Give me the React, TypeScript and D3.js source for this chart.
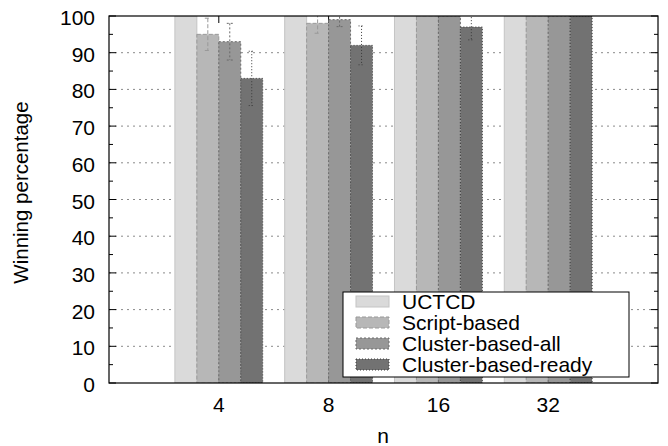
import React from 'react';
import * as d3 from 'd3';

const categories = ['4', '8', '16', '32'];
const seriesNames = ['UCTCD', 'Script-based', 'Cluster-based-all', 'Cluster-based-ready'];
const uctcd = [100, 100, 100, 100];
const scriptBased = [95, 98, 100, 100];
const clusterAll = [93, 99, 100, 100];
const clusterReady = [83, 92, 97, 100];
const uctcdErr = [0, 0, 0, 0];
const scriptErr = [4.4, 2.7, 0, 0];
const clusterAllErr = [5, 1.9, 0, 0];
const clusterReadyErr = [7.4, 5.3, 3.5, 0];
const yTicks = [0, 10, 20, 30, 40, 50, 60, 70, 80, 90, 100];
const yMinorTicks = [5, 15, 25, 35, 45, 55, 65, 75, 85, 95];

const seriesValues = [uctcd, scriptBased, clusterAll, clusterReady];
const seriesErrors = [uctcdErr, scriptErr, clusterAllErr, clusterReadyErr];
const fills = ['#dadada', '#b7b7b7', '#979797', '#727272'];
const strokes = ['#c4c4c4', '#999999', '#6a6a6a', '#3a3a3a'];
const dashes = ['none', '4,2', '2,2', '1,2'];

const W = 668, H = 446;
const L = 109, R = 658, T = 16, B = 383;
const font = '"Liberation Sans", Arial, Helvetica, sans-serif';
const FS = 21;

export default function App() {
  const x = d3.scaleLinear().domain([-1, 4]).range([L, R]);
  const y = d3.scaleLinear().domain([0, 100]).range([B, T]);
  const bw = 0.2;

  return (
    <svg width={W} height={H} style={{ position: 'absolute', left: 0, top: 0, background: '#fff' }} fontFamily={font}>
      <defs>
        <clipPath id="plot"><rect x={L} y={T} width={R - L} height={B - T} /></clipPath>
      </defs>
      {yTicks.filter(t => t > 0 && t < 100).map(t => (
        <line key={'g' + t} x1={L} x2={R} y1={y(t)} y2={y(t)} stroke="#8a8a8a" strokeWidth={1} strokeDasharray="2,4" />
      ))}
      {yTicks.map(t => (
        <g key={'t' + t}>
          <line x1={L} x2={L + 7} y1={y(t)} y2={y(t)} stroke="#000" />
          <line x1={R} x2={R - 7} y1={y(t)} y2={y(t)} stroke="#000" />
          <text x={95} y={y(t) + 9} textAnchor="end" fontSize={FS} fill="#000">{t}</text>
        </g>
      ))}
      {yMinorTicks.map(t => (
        <g key={'m' + t}>
          <line x1={L} x2={L + 4} y1={y(t)} y2={y(t)} stroke="#000" />
          <line x1={R} x2={R - 4} y1={y(t)} y2={y(t)} stroke="#000" />
        </g>
      ))}
      {categories.map((c, i) => (
        <g key={'xt' + c}>
          <line x1={x(i)} x2={x(i)} y1={T} y2={T + 7} stroke="#000" />
          <line x1={x(i)} x2={x(i)} y1={B} y2={B - 7} stroke="#000" />
          <text x={x(i)} y={412} textAnchor="middle" fontSize={FS} fill="#000">{c}</text>
        </g>
      ))}
      <g clipPath="url(#plot)">
        {seriesValues.map((vals, s) => vals.map((v, i) => {
          const x0 = x(i + (s - 2) * bw);
          const x1 = x(i + (s - 1) * bw);
          return (
            <rect key={`b${s}-${i}`} x={x0} y={y(v)} width={x1 - x0} height={B - y(v)}
              fill={fills[s]} stroke={strokes[s]} strokeWidth={1} strokeDasharray={dashes[s]} />
          );
        }))}
        {seriesErrors.map((errs, s) => errs.map((e, i) => {
          if (!e) return null;
          const v = seriesValues[s][i];
          const cx = x(i + (s - 1.5) * bw);
          const yt = y(v + e), yb = y(v - e);
          return (
            <g key={`e${s}-${i}`} stroke={strokes[s]} strokeWidth={1} strokeDasharray={dashes[s]}>
              <line x1={cx} x2={cx} y1={yt} y2={yb} />
              <line x1={cx - 3} x2={cx + 3} y1={yt} y2={yt} />
              <line x1={cx - 3} x2={cx + 3} y1={yb} y2={yb} />
            </g>
          );
        }))}
      </g>
      <rect x={L} y={T} width={R - L} height={B - T} fill="none" stroke="#000" strokeWidth={1.2} />
      <rect x={343} y={292} width={286} height={85} fill="#fff" stroke="#000" strokeWidth={1} />
      {seriesNames.map((n, s) => (
        <g key={'l' + n}>
          <rect x={356} y={296 + s * 21} width={33} height={11} fill={fills[s]} stroke={strokes[s]} strokeDasharray={dashes[s]} />
          <text x={402} y={309 + s * 21} fontSize={FS} fill="#000">{n}</text>
        </g>
      ))}
      <text transform={`translate(28,192.5) rotate(-90)`} textAnchor="middle" fontSize={20.5} fill="#000">Winning percentage</text>
      <text x={383} y={443} textAnchor="middle" fontSize={FS} fill="#000">n</text>
    </svg>
  );
}
